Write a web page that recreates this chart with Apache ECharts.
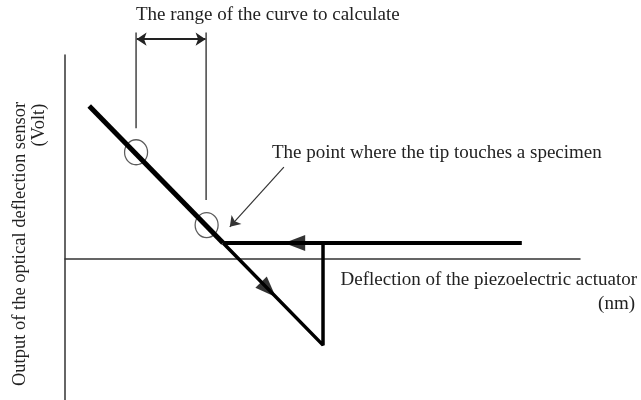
<!DOCTYPE html>
<html>
<head>
<meta charset="utf-8">
<script src="https://cdn.jsdelivr.net/npm/echarts@6/dist/echarts.min.js"></script>
<style>
  html, body { margin: 0; padding: 0; background: #fff; }
  #main { width: 641px; height: 400px; }
</style>
</head>
<body>
<div id="main"></div>
<script>
// curve pieces (x: actuator deflection, y: sensor output, arbitrary units)
var approachLine = [[88.7, 0.45], [30.7, 0.45]];
var contactLine = [[4.7, 4.42], [30.7, 0.45]];
var pushLine = [[30.7, 0.45], [50.1, -2.51], [50.1, 0.45]];
// arrow heads on the curve: [x, y, rotation]
var arrowHeads = [[44.6, 0.45, 90], [39.5, -0.9, -135.6]];
// ellipses marking the calculation range
var rangeMarks = [[13.8, 3.08], [27.5, 0.97]];
// range bracket
var bracketLeft = [[13.8, 6.55], [13.8, 3.78]];
var bracketRight = [[27.4, 6.55], [27.4, 1.70]];
var bracketArrow = [[13.9, 6.36], [27.3, 6.36]];
// pointer to contact point
var pointer = [[42.5, 2.65], [32.0, 0.92]];

var chart = echarts.init(document.getElementById('main'));
var font = '"Liberation Serif", "Times New Roman", serif';

chart.setOption({
    animation: false,
    grid: { left: 65, right: 61, top: 55, bottom: 0 },
    xAxis: {
        type: 'value', min: 0, max: 100,
        axisLine: { onZero: true, lineStyle: { color: '#333', width: 1.5 } },
        axisTick: { show: false }, axisLabel: { show: false }, splitLine: { show: false }
    },
    yAxis: {
        type: 'value', min: -4.1, max: 5.9,
        axisLine: { show: true, onZero: false, lineStyle: { color: '#333', width: 1.5 } },
        axisTick: { show: false }, axisLabel: { show: false }, splitLine: { show: false }
    },
    graphic: [
        { type: 'text', left: 136, top: 6, style: { text: 'The range of the curve to calculate', font: '19px ' + font, fill: '#222' } },
        { type: 'text', left: 272, top: 144, style: { text: 'The point where the tip touches a specimen', font: '19px ' + font, fill: '#222' } },
        { type: 'text', right: 4, top: 271, style: { text: 'Deflection of the piezoelectric actuator', font: '19px ' + font, fill: '#222' } },
        { type: 'text', right: 6, top: 295, style: { text: '(nm)', font: '19px ' + font, fill: '#222' } },
        { type: 'text', x: 20, y: 244, rotation: Math.PI / 2, style: { text: 'Output of the optical deflection sensor', font: '18.5px ' + font, fill: '#222', align: 'center', verticalAlign: 'middle' } },
        { type: 'text', x: 39, y: 125, rotation: Math.PI / 2, style: { text: '(Volt)', font: '18.5px ' + font, fill: '#222', align: 'center', verticalAlign: 'middle' } }
    ],
    series: [
        { type: 'line', data: approachLine, symbol: 'none', lineStyle: { color: '#000', width: 4 } },
        { type: 'line', data: contactLine, symbol: 'none', lineStyle: { color: '#000', width: 5 } },
        { type: 'line', data: pushLine, symbol: 'none', lineStyle: { color: '#000', width: 3.5 } },
        {
            type: 'scatter',
            data: arrowHeads.map(function (a) { return { value: [a[0], a[1]], symbolRotate: a[2] }; }),
            symbol: 'triangle', symbolSize: [16, 21],
            itemStyle: { color: '#000' }, z: 5
        },
        {
            type: 'scatter', data: rangeMarks,
            symbol: 'circle', symbolSize: [23, 25],
            itemStyle: { color: 'transparent', borderColor: '#333', borderWidth: 1.3 }
        },
        { type: 'line', data: bracketLeft, symbol: 'none', clip: false, lineStyle: { color: '#444', width: 1.5 } },
        { type: 'line', data: bracketRight, symbol: 'none', clip: false, lineStyle: { color: '#444', width: 1.5 } },
        {
            type: 'lines', coordinateSystem: 'cartesian2d', clip: false,
            symbol: ['arrow', 'arrow'], symbolSize: 10,
            lineStyle: { color: '#222', width: 1.8, opacity: 1 },
            data: [{ coords: bracketArrow }]
        },
        {
            type: 'lines', coordinateSystem: 'cartesian2d', clip: false,
            symbol: ['none', 'arrow'], symbolSize: 10,
            lineStyle: { color: '#333', width: 1.2, opacity: 1 },
            data: [{ coords: pointer }]
        }
    ]
});
</script>
</body>
</html>
